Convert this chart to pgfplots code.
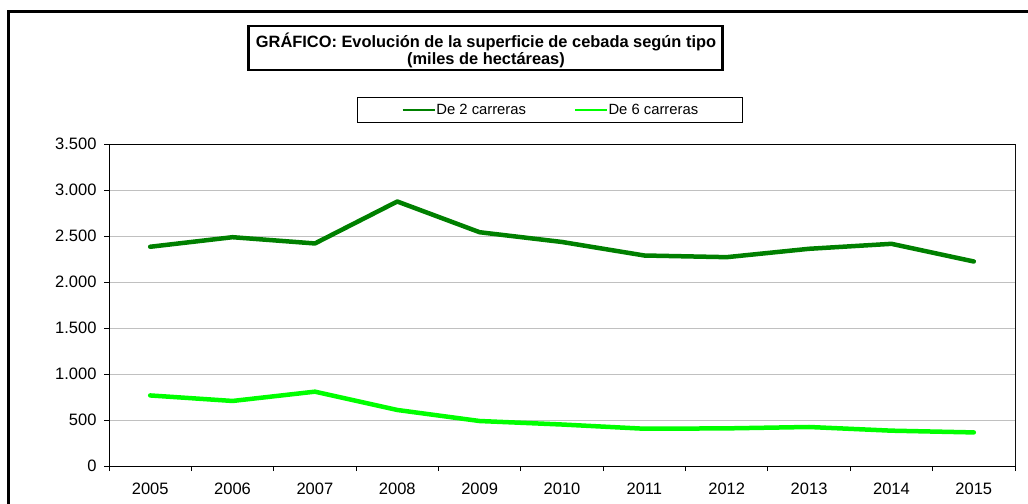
\documentclass[border=0pt]{standalone}
\usepackage{pgfplots}
\pgfplotsset{compat=1.18}
\usepackage{fontspec}
\setmainfont{Liberation Sans}
\definecolor{dkgreen}{HTML}{008000}
\definecolor{ltgreen}{HTML}{00FF00}
\definecolor{gridgray}{HTML}{C0C0C0}
\begin{document}
\begin{tikzpicture}
\path[use as bounding box] (0bp,0bp) rectangle (1028bp,-504bp);
\draw[line width=3bp] (8bp,-504bp) -- (8bp,-11.5bp) -- (1028bp,-11.5bp);
\node[draw, line width=2.5bp, minimum width=474bp, minimum height=44bp] at (485.5bp,-48bp) {};
\node[align=center, font=\bfseries\fontsize{16.4bp}{17bp}\selectfont, inner sep=0pt] at (486bp,-50.5bp)
  {GRÁFICO: Evolución de la superficie de cebada según tipo\\(miles de hectáreas)};
\begin{axis}[
  at={(109bp,-466bp)}, anchor=south west, scale only axis,
  width=906bp, height=322bp,
  xmin=-0.5, xmax=10.5, ymin=0, ymax=3500,
  xtick={0,1,2,3,4,5,6,7,8,9,10},
  xticklabels={2005,2006,2007,2008,2009,2010,2011,2012,2013,2014,2015},
  minor xtick={-0.5,0.5,1.5,2.5,3.5,4.5,5.5,6.5,7.5,8.5,9.5,10.5},
  major x tick style={draw=none},
  ytick={0,500,1000,1500,2000,2500,3000,3500},
  tick pos=left,
  tick align=outside, major tick length=5bp, minor tick length=5bp,
  tick style={black, line width=1bp},
  ymajorgrids, grid style={gridgray, line width=1bp},
  axis line style={black, line width=1bp},
  /pgf/number format/assume math mode=true,
  /pgf/number format/1000 sep={.},
  tick label style={font=\fontsize{16.5bp}{18bp}\selectfont},
  xticklabel style={yshift=-8.5bp},
  yticklabel style={xshift=-4bp},
  legend columns=2,
  legend style={at={(0.4868,1.1056)}, anchor=center, draw=black, line width=1bp,
    font=\fontsize{14.8bp}{16bp}\selectfont, inner xsep=44bp, inner ysep=6.5bp,
    column sep=0bp, nodes={inner sep=0.5bp},
    /tikz/every even column/.append style={column sep=47bp}},
  legend cell align=left,
  legend image code/.code={\draw[#1, line width=2.5bp, line cap=butt] (0bp,0bp) -- (32bp,0bp);},
]
\addplot[dkgreen, line width=4.5bp, line join=round, line cap=round] coordinates {
(0,2383) (1,2487) (2,2419) (3,2875) (4,2541) (5,2435) (6,2288) (7,2270) (8,2361) (9,2415) (10,2223)};
\addlegendentry{De 2 carreras}
\addplot[ltgreen, line width=4.5bp, line join=round, line cap=round] coordinates {
(0,767) (1,707) (2,808) (3,609) (4,489) (5,451) (6,405) (7,409) (8,424) (9,384) (10,365)};
\addlegendentry{De 6 carreras}
\draw[gray, line width=1bp] (rel axis cs:1,0) -- (rel axis cs:1,1);
\end{axis}
\end{tikzpicture}
\end{document}
